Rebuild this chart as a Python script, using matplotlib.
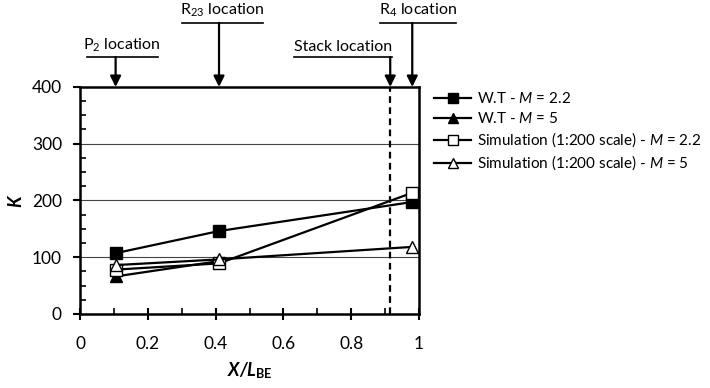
import numpy as np
import matplotlib
matplotlib.use("Agg")
import matplotlib.pyplot as plt

FONT = "Lato"
plt.rcParams["font.family"] = [FONT, "DejaVu Sans"]
plt.rcParams["mathtext.fontset"] = "custom"
plt.rcParams["mathtext.rm"] = FONT
plt.rcParams["mathtext.it"] = FONT + ":italic"
plt.rcParams["mathtext.bf"] = FONT + ":italic:bold"
plt.rcParams["mathtext.sf"] = FONT + ":bold"

# data
x_pos = [0.105, 0.41, 0.978]
wt_m22 = [107, 146, 197]
wt_m5 = [66, 93, np.nan]
sim_m22 = [78, 89, 213]
sim_m5 = [86, 96, 118]

stack_x = 0.915

# labels above the plot: (text, arrow x, underline start, underline end, height)
locations = [
    (r"P$_2$ location", 0.105, 0.02, 0.229, 1.132),
    (r"R$_{23}$ location", 0.41, 0.30, 0.539, 1.282),
    ("Stack location", 0.915, 0.631, 0.920, 1.132),
    (r"R$_4$ location", 0.98, 0.885, 1.108, 1.282),
]

fig = plt.figure(figsize=(7.1, 3.88), dpi=100)
ax = fig.add_axes([0.1127, 0.191, 0.4775, 0.585])

ax.plot(x_pos, wt_m22, "-s", color="black", lw=1.6, ms=8.5, mfc="black",
        label=r"W.T - $\mathit{M}$ = 2.2", zorder=3)
ax.plot(x_pos, wt_m5, "-^", color="black", lw=1.6, ms=9, mfc="black",
        label=r"W.T - $\mathit{M}$ = 5", zorder=3)
ax.plot(x_pos, sim_m22, "-s", color="black", lw=1.6, ms=8.5, mfc="white",
        label=r"Simulation (1:200 scale) - $\mathit{M}$ = 2.2", zorder=4)
ax.plot(x_pos, sim_m5, "-^", color="black", lw=1.6, ms=9, mfc="white",
        label=r"Simulation (1:200 scale) - $\mathit{M}$ = 5", zorder=4)

ax.axvline(stack_x, color="black", lw=1.6, ls=(0, (3, 2)), zorder=2)

ax.set_xlim(0, 1)
ax.set_ylim(0, 400)
ax.set_xticks(np.arange(0, 1.01, 0.2))
ax.set_xticklabels(["0", "0.2", "0.4", "0.6", "0.8", "1"])
ax.set_xticks(np.arange(0.1, 1.0, 0.2), minor=True)
ax.set_yticks(np.arange(0, 401, 100))
ax.set_yticks(np.arange(25, 400, 25), minor=True)
ax.tick_params(which="major", direction="inout", length=8, width=1.5,
               labelsize=12.5)
ax.tick_params(axis="y", which="major", direction="out", length=5, pad=8)
ax.tick_params(which="minor", direction="in", length=4, width=1.2)
ax.tick_params(axis="x", which="major", pad=12)

for s in ax.spines.values():
    s.set_linewidth(1.8)

for yv in [100, 200, 300]:
    ax.axhline(yv, color="#444444", lw=0.8, zorder=1)

ax.set_xlabel(r"$\mathbf{X/L}_{\mathsf{BE}}$", fontsize=13, labelpad=6)
ax.set_ylabel(r"$\mathbf{K}$", fontsize=13, labelpad=5)

tr = ax.get_xaxis_transform()
for text, xa, x0, x1, h in locations:
    ax.annotate("", xy=(xa, 1.0), xytext=(xa, h), xycoords=tr, textcoords=tr,
                arrowprops=dict(arrowstyle="-|>", color="black", lw=1.6,
                                mutation_scale=16, shrinkA=0, shrinkB=0))
    ax.plot([x0, x1], [h, h], color="black", lw=1.2, transform=tr, clip_on=False)
    ax.text((x0 + x1) / 2, h + 0.015, text, transform=tr, ha="center",
            va="bottom", fontsize=11.5)

fig.legend(loc="upper left", bbox_to_anchor=(0.603, 0.78), frameon=False,
           fontsize=11, handlelength=2.4, handletextpad=0.4, labelspacing=0.3,
           borderaxespad=0, markerscale=0.85)

fig.savefig("out.png", dpi=100)
